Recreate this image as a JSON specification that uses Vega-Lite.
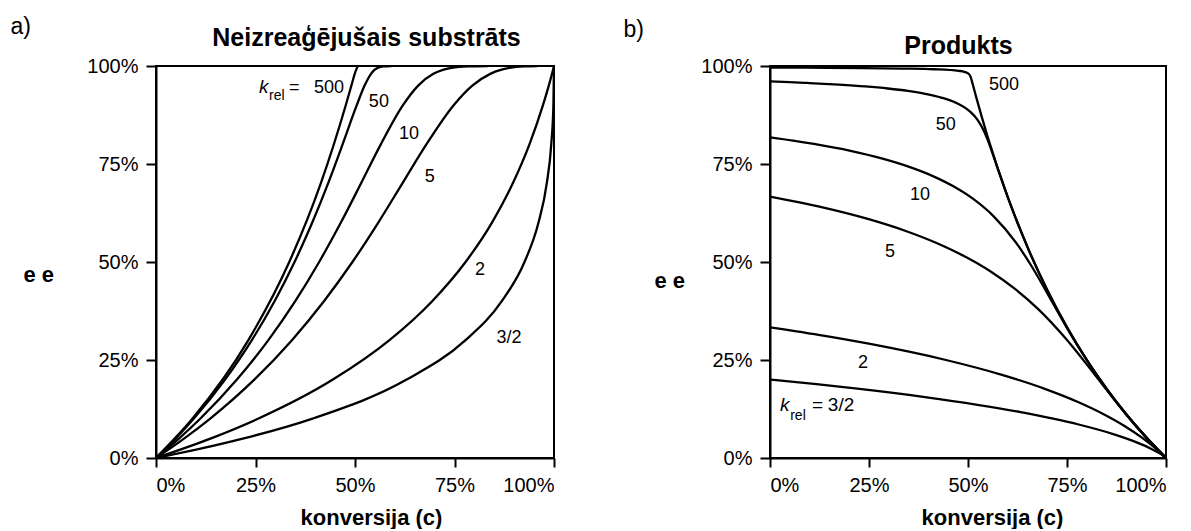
{
  "$schema": "https://vega.github.io/schema/vega-lite/v6.json",
  "padding": {"left": 9, "top": 14, "right": 5, "bottom": 0},
  "background": "white",
  "spacing": 216,
  "bounds": "flush",
  "config": {
    "font": "Liberation Sans",
    "view": {"stroke": "black", "strokeWidth": 2},
    "axis": {"grid": false, "domainColor": "black", "domainWidth": 2, "tickColor": "black", "tickWidth": 2, "labelColor": "black", "labelFont": "Liberation Sans", "labelFontSize": 20, "titleColor": "black", "titleFont": "Liberation Sans"},
    "text": {"font": "Liberation Sans", "color": "black"}
  },
  "datasets": {
    "substrate": [
      {"k":"3/2","c":0,"ee":0},{"k":"3/2","c":0.1173,"ee":0.025},{"k":"3/2","c":0.2204,"ee":0.05},{"k":"3/2","c":0.3914,"ee":0.1},{"k":"3/2","c":0.6297,"ee":0.2},{"k":"3/2","c":0.777,"ee":0.3},{"k":"3/2","c":0.8688,"ee":0.4},{"k":"3/2","c":0.9259,"ee":0.5},{"k":"3/2","c":0.9609,"ee":0.6},{"k":"3/2","c":0.9817,"ee":0.7},{"k":"3/2","c":0.9931,"ee":0.8},{"k":"3/2","c":0.9985,"ee":0.9},{"k":"3/2","c":1,"ee":1},
      {"k":"2","c":0,"ee":0},{"k":"2","c":0.1383,"ee":0.05},{"k":"2","c":0.2562,"ee":0.1},{"k":"2","c":0.4444,"ee":0.2},{"k":"2","c":0.5858,"ee":0.3},{"k":"2","c":0.6939,"ee":0.4},{"k":"2","c":0.7778,"ee":0.5},{"k":"2","c":0.8438,"ee":0.6},{"k":"2","c":0.8962,"ee":0.7},{"k":"2","c":0.9383,"ee":0.8},{"k":"2","c":0.9723,"ee":0.9},{"k":"2","c":0.9869,"ee":0.95},{"k":"2","c":0.9975,"ee":0.99},{"k":"2","c":1,"ee":1},
      {"k":"5","c":0,"ee":0},{"k":"5","c":0.0712,"ee":0.05},{"k":"5","c":0.1354,"ee":0.1},{"k":"5","c":0.247,"ee":0.2},{"k":"5","c":0.341,"ee":0.3},{"k":"5","c":0.422,"ee":0.4},{"k":"5","c":0.4935,"ee":0.5},{"k":"5","c":0.5581,"ee":0.6},{"k":"5","c":0.6187,"ee":0.7},{"k":"5","c":0.6793,"ee":0.8},{"k":"5","c":0.7479,"ee":0.9},{"k":"5","c":0.7948,"ee":0.95},{"k":"5","c":0.8399,"ee":0.98},{"k":"5","c":0.8662,"ee":0.99},{"k":"5","c":0.8879,"ee":0.995},{"k":"5","c":0.9252,"ee":0.999},{"k":"5","c":0.958,"ee":0.9999},
      {"k":"10","c":0,"ee":0},{"k":"10","c":0.0582,"ee":0.05},{"k":"10","c":0.111,"ee":0.1},{"k":"10","c":0.2033,"ee":0.2},{"k":"10","c":0.2819,"ee":0.3},{"k":"10","c":0.3499,"ee":0.4},{"k":"10","c":0.4099,"ee":0.5},{"k":"10","c":0.4642,"ee":0.6},{"k":"10","c":0.5149,"ee":0.7},{"k":"10","c":0.5648,"ee":0.8},{"k":"10","c":0.6205,"ee":0.9},{"k":"10","c":0.6587,"ee":0.95},{"k":"10","c":0.6969,"ee":0.98},{"k":"10","c":0.7209,"ee":0.99},{"k":"10","c":0.7423,"ee":0.995},{"k":"10","c":0.785,"ee":0.999},{"k":"10","c":0.8336,"ee":0.9999},
      {"k":"50","c":0,"ee":0},{"k":"50","c":0.0496,"ee":0.05},{"k":"50","c":0.0946,"ee":0.1},{"k":"50","c":0.1735,"ee":0.2},{"k":"50","c":0.2404,"ee":0.3},{"k":"50","c":0.2979,"ee":0.4},{"k":"50","c":0.3481,"ee":0.5},{"k":"50","c":0.3924,"ee":0.6},{"k":"50","c":0.4322,"ee":0.7},{"k":"50","c":0.4688,"ee":0.8},{"k":"50","c":0.5044,"ee":0.9},{"k":"50","c":0.5241,"ee":0.95},{"k":"50","c":0.5402,"ee":0.98},{"k":"50","c":0.5489,"ee":0.99},{"k":"50","c":0.5564,"ee":0.995},{"k":"50","c":0.5716,"ee":0.999},{"k":"50","c":0.5915,"ee":0.9999},
      {"k":"500","c":0,"ee":0},{"k":"500","c":0.0913,"ee":0.1},{"k":"500","c":0.2317,"ee":0.3},{"k":"500","c":0.3348,"ee":0.5},{"k":"500","c":0.4138,"ee":0.7},{"k":"500","c":0.4768,"ee":0.9},{"k":"500","c":0.4909,"ee":0.95},{"k":"500","c":0.5028,"ee":0.99},{"k":"500","c":0.5073,"ee":0.999},{"k":"500","c":0.5098,"ee":0.9999}
    ],
    "product": [
      {"k":"3/2","c":0,"ee":0.2},{"k":"3/2","c":0.1173,"ee":0.1882},{"k":"3/2","c":0.2204,"ee":0.1769},{"k":"3/2","c":0.3914,"ee":0.1555},{"k":"3/2","c":0.6297,"ee":0.1176},{"k":"3/2","c":0.777,"ee":0.0861},{"k":"3/2","c":0.8688,"ee":0.0604},{"k":"3/2","c":0.9259,"ee":0.04},{"k":"3/2","c":0.9609,"ee":0.0244},{"k":"3/2","c":0.9817,"ee":0.0131},{"k":"3/2","c":0.9931,"ee":0.0055},{"k":"3/2","c":1,"ee":0},
      {"k":"2","c":0,"ee":0.3333},{"k":"2","c":0.1383,"ee":0.3115},{"k":"2","c":0.2562,"ee":0.2903},{"k":"2","c":0.4444,"ee":0.25},{"k":"2","c":0.5858,"ee":0.2121},{"k":"2","c":0.6939,"ee":0.1765},{"k":"2","c":0.7778,"ee":0.1429},{"k":"2","c":0.8438,"ee":0.1111},{"k":"2","c":0.8962,"ee":0.0811},{"k":"2","c":0.9383,"ee":0.0526},{"k":"2","c":0.9723,"ee":0.0256},{"k":"2","c":0.9869,"ee":0.0127},{"k":"2","c":1,"ee":0},
      {"k":"5","c":0,"ee":0.6667},{"k":"5","c":0.0712,"ee":0.6526},{"k":"5","c":0.1354,"ee":0.6386},{"k":"5","c":0.247,"ee":0.6098},{"k":"5","c":0.341,"ee":0.5797},{"k":"5","c":0.422,"ee":0.5478},{"k":"5","c":0.4935,"ee":0.5133},{"k":"5","c":0.5581,"ee":0.4752},{"k":"5","c":0.6187,"ee":0.4313},{"k":"5","c":0.6793,"ee":0.3778},{"k":"5","c":0.7479,"ee":0.3034},{"k":"5","c":0.7948,"ee":0.2453},{"k":"5","c":0.8399,"ee":0.1868},{"k":"5","c":0.8662,"ee":0.1529},{"k":"5","c":0.8879,"ee":0.1257},{"k":"5","c":0.9252,"ee":0.0808},{"k":"5","c":0.958,"ee":0.0439},{"k":"5","c":0.9764,"ee":0.0242},{"k":"5","c":1,"ee":0},
      {"k":"10","c":0,"ee":0.8182},{"k":"10","c":0.0582,"ee":0.8098},{"k":"10","c":0.111,"ee":0.8012},{"k":"10","c":0.2033,"ee":0.7836},{"k":"10","c":0.2819,"ee":0.7644},{"k":"10","c":0.3499,"ee":0.7433},{"k":"10","c":0.4099,"ee":0.7198},{"k":"10","c":0.4642,"ee":0.6925},{"k":"10","c":0.5149,"ee":0.6596},{"k":"10","c":0.5648,"ee":0.6165},{"k":"10","c":0.6205,"ee":0.5504},{"k":"10","c":0.6587,"ee":0.4923},{"k":"10","c":0.6969,"ee":0.4262},{"k":"10","c":0.7209,"ee":0.3832},{"k":"10","c":0.7423,"ee":0.3454},{"k":"10","c":0.785,"ee":0.2736},{"k":"10","c":0.8336,"ee":0.1996},{"k":"10","c":0.8712,"ee":0.1478},{"k":"10","c":0.9,"ee":0.1111},{"k":"10","c":0.95,"ee":0.0526},{"k":"10","c":1,"ee":0},
      {"k":"50","c":0,"ee":0.9608},{"k":"50","c":0.0496,"ee":0.9589},{"k":"50","c":0.0946,"ee":0.9567},{"k":"50","c":0.1735,"ee":0.9525},{"k":"50","c":0.2404,"ee":0.9479},{"k":"50","c":0.2979,"ee":0.9426},{"k":"50","c":0.3481,"ee":0.9364},{"k":"50","c":0.3924,"ee":0.9289},{"k":"50","c":0.4322,"ee":0.9195},{"k":"50","c":0.4688,"ee":0.9065},{"k":"50","c":0.5044,"ee":0.8844},{"k":"50","c":0.5241,"ee":0.8626},{"k":"50","c":0.5402,"ee":0.8343},{"k":"50","c":0.5489,"ee":0.8135},{"k":"50","c":0.5564,"ee":0.7933},{"k":"50","c":0.5716,"ee":0.7487},{"k":"50","c":0.5915,"ee":0.6906},{"k":"50","c":0.6103,"ee":0.6386},{"k":"50","c":0.65,"ee":0.5385},{"k":"50","c":0.7,"ee":0.4286},{"k":"50","c":0.75,"ee":0.3333},{"k":"50","c":0.8,"ee":0.25},{"k":"50","c":0.85,"ee":0.1765},{"k":"50","c":0.9,"ee":0.1111},{"k":"50","c":0.95,"ee":0.0526},{"k":"50","c":1,"ee":0},
      {"k":"500","c":0,"ee":0.996},{"k":"500","c":0.0913,"ee":0.9957},{"k":"500","c":0.2317,"ee":0.9947},{"k":"500","c":0.3348,"ee":0.9935},{"k":"500","c":0.4138,"ee":0.9917},{"k":"500","c":0.4768,"ee":0.9876},{"k":"500","c":0.4909,"ee":0.9851},{"k":"500","c":0.5028,"ee":0.9791},{"k":"500","c":0.5073,"ee":0.9703},{"k":"500","c":0.5098,"ee":0.9615},{"k":"500","c":0.52,"ee":0.9231},{"k":"500","c":0.55,"ee":0.8182},{"k":"500","c":0.6,"ee":0.6667},{"k":"500","c":0.65,"ee":0.5385},{"k":"500","c":0.7,"ee":0.4286},{"k":"500","c":0.75,"ee":0.3333},{"k":"500","c":0.8,"ee":0.25},{"k":"500","c":0.85,"ee":0.1765},{"k":"500","c":0.9,"ee":0.1111},{"k":"500","c":0.95,"ee":0.0526},{"k":"500","c":1,"ee":0}
    ],
    "labelsA": [
      {"t":"50","c":0.560,"ee":0.908,"p":"n"},{"t":"10","c":0.636,"ee":0.827,"p":"n"},{"t":"5","c":0.688,"ee":0.717,"p":"n"},{"t":"2","c":0.814,"ee":0.480,"p":"n"},{"t":"3/2","c":0.887,"ee":0.306,"p":"n"},
      {"t":"k","c":0.259,"ee":0.931,"p":"k"},{"t":"rel","c":0.284,"ee":0.913,"p":"r"},{"t":"=","c":0.334,"ee":0.931,"p":"l"},{"t":"500","c":0.397,"ee":0.931,"p":"l"}
    ],
    "labelsB": [
      {"t":"500","c":0.591,"ee":0.952,"p":"n"},{"t":"50","c":0.444,"ee":0.849,"p":"n"},{"t":"10","c":0.379,"ee":0.671,"p":"n"},{"t":"5","c":0.303,"ee":0.526,"p":"n"},{"t":"2","c":0.235,"ee":0.242,"p":"n"},
      {"t":"k","c":0.025,"ee":0.120,"p":"k"},{"t":"rel","c":0.051,"ee":0.097,"p":"r"},{"t":"=","c":0.106,"ee":0.120,"p":"l"},{"t":"3/2","c":0.146,"ee":0.120,"p":"l"}
    ]
  },
  "hconcat": [
    {
      "width": 398,
      "height": 392,
      "layer": [
        {
          "data": {"name": "substrate"},
          "mark": {"type": "line", "interpolate": "monotone", "clip": true, "strokeWidth": 2.3, "color": "black"},
          "encoding": {
            "x": {"field": "c", "type": "quantitative", "scale": {"domain": [0, 1], "nice": false, "zero": false},
              "axis": {"orient": "bottom", "values": [0, 0.25, 0.5, 0.75, 1], "format": ".0%", "tickSize": 9, "labelPadding": 8,
                "title": "konversija (c)", "titleFontSize": 22, "titleFontWeight": "bold", "titleX": 215, "titleY": 66, "titleAlign": "center", "titleBaseline": "alphabetic"}},
            "y": {"field": "ee", "type": "quantitative", "scale": {"domain": [0, 1], "nice": false, "zero": false},
              "axis": {"orient": "left", "values": [0, 0.25, 0.5, 0.75, 1], "format": ".0%", "tickSize": 10, "labelPadding": 8,
                "title": "e e", "titleAngle": 0, "titleFontSize": 22, "titleFontWeight": "bold", "titleX": -133, "titleY": 215, "titleAlign": "left", "titleBaseline": "alphabetic"}},
            "detail": {"field": "k", "type": "nominal"}
          }
        },
        {
          "data": {"name": "labelsA"},
          "transform": [{"filter": "datum.p === 'n'"}],
          "mark": {"type": "text", "align": "center", "baseline": "middle", "fontSize": 18},
          "encoding": {
            "x": {"field": "c", "type": "quantitative", "scale": {"domain": [0, 1], "nice": false, "zero": false},
              "axis": {"orient": "top", "labels": false, "ticks": false, "domain": false,
                "title": "Neizreaģējušais substrāts", "titleFontSize": 25, "titleFontWeight": "bold", "titleX": 210, "titleY": -21, "titleAlign": "center", "titleBaseline": "alphabetic"}},
            "y": {"field": "ee", "type": "quantitative", "scale": {"domain": [0, 1], "nice": false, "zero": false},
              "axis": {"orient": "right", "labels": false, "ticks": false, "domain": false,
                "title": "a)", "titleAngle": 0, "titleFontSize": 23, "titleFontWeight": "normal", "titleX": -544, "titleY": -33, "titleAlign": "left", "titleBaseline": "alphabetic"}},
            "text": {"field": "t", "type": "nominal"}
          }
        },
        {
          "data": {"name": "labelsA"},
          "transform": [{"filter": "datum.p === 'k'"}],
          "mark": {"type": "text", "align": "left", "baseline": "alphabetic", "fontSize": 19, "fontStyle": "italic"},
          "encoding": {
            "x": {"field": "c", "type": "quantitative", "scale": {"domain": [0, 1], "nice": false, "zero": false}, "axis": null},
            "y": {"field": "ee", "type": "quantitative", "scale": {"domain": [0, 1], "nice": false, "zero": false}, "axis": null},
            "text": {"field": "t", "type": "nominal"}
          }
        },
        {
          "data": {"name": "labelsA"},
          "transform": [{"filter": "datum.p === 'r'"}],
          "mark": {"type": "text", "align": "left", "baseline": "alphabetic", "fontSize": 14},
          "encoding": {
            "x": {"field": "c", "type": "quantitative", "scale": {"domain": [0, 1], "nice": false, "zero": false}, "axis": null},
            "y": {"field": "ee", "type": "quantitative", "scale": {"domain": [0, 1], "nice": false, "zero": false}, "axis": null},
            "text": {"field": "t", "type": "nominal"}
          }
        },
        {
          "data": {"name": "labelsA"},
          "transform": [{"filter": "datum.p === 'l'"}],
          "mark": {"type": "text", "align": "left", "baseline": "alphabetic", "fontSize": 18},
          "encoding": {
            "x": {"field": "c", "type": "quantitative", "scale": {"domain": [0, 1], "nice": false, "zero": false}, "axis": null},
            "y": {"field": "ee", "type": "quantitative", "scale": {"domain": [0, 1], "nice": false, "zero": false}, "axis": null},
            "text": {"field": "t", "type": "nominal"}
          }
        }
      ],
      "resolve": {"axis": {"x": "independent", "y": "independent"}}
    },
    {
      "width": 396,
      "height": 392,
      "layer": [
        {
          "data": {"name": "product"},
          "mark": {"type": "line", "interpolate": "monotone", "clip": true, "strokeWidth": 2.3, "color": "black"},
          "encoding": {
            "x": {"field": "c", "type": "quantitative", "scale": {"domain": [0, 1], "nice": false, "zero": false},
              "axis": {"orient": "bottom", "values": [0, 0.25, 0.5, 0.75, 1], "format": ".0%", "tickSize": 9, "labelPadding": 8,
                "title": "konversija (c)", "titleFontSize": 22, "titleFontWeight": "bold", "titleX": 222, "titleY": 66, "titleAlign": "center", "titleBaseline": "alphabetic"}},
            "y": {"field": "ee", "type": "quantitative", "scale": {"domain": [0, 1], "nice": false, "zero": false},
              "axis": {"orient": "left", "values": [0, 0.25, 0.5, 0.75, 1], "format": ".0%", "tickSize": 10, "labelPadding": 8,
                "title": "e e", "titleAngle": 0, "titleFontSize": 22, "titleFontWeight": "bold", "titleX": -116, "titleY": 221, "titleAlign": "left", "titleBaseline": "alphabetic"}},
            "detail": {"field": "k", "type": "nominal"}
          }
        },
        {
          "data": {"name": "labelsB"},
          "transform": [{"filter": "datum.p === 'n'"}],
          "mark": {"type": "text", "align": "center", "baseline": "middle", "fontSize": 18},
          "encoding": {
            "x": {"field": "c", "type": "quantitative", "scale": {"domain": [0, 1], "nice": false, "zero": false},
              "axis": {"orient": "top", "labels": false, "ticks": false, "domain": false,
                "title": "Produkts", "titleFontSize": 25, "titleFontWeight": "bold", "titleX": 188, "titleY": -13, "titleAlign": "center", "titleBaseline": "alphabetic"}},
            "y": {"field": "ee", "type": "quantitative", "scale": {"domain": [0, 1], "nice": false, "zero": false},
              "axis": {"orient": "right", "labels": false, "ticks": false, "domain": false,
                "title": "b)", "titleAngle": 0, "titleFontSize": 23, "titleFontWeight": "normal", "titleX": -543, "titleY": -30, "titleAlign": "left", "titleBaseline": "alphabetic"}},
            "text": {"field": "t", "type": "nominal"}
          }
        },
        {
          "data": {"name": "labelsB"},
          "transform": [{"filter": "datum.p === 'k'"}],
          "mark": {"type": "text", "align": "left", "baseline": "alphabetic", "fontSize": 19, "fontStyle": "italic"},
          "encoding": {
            "x": {"field": "c", "type": "quantitative", "scale": {"domain": [0, 1], "nice": false, "zero": false}, "axis": null},
            "y": {"field": "ee", "type": "quantitative", "scale": {"domain": [0, 1], "nice": false, "zero": false}, "axis": null},
            "text": {"field": "t", "type": "nominal"}
          }
        },
        {
          "data": {"name": "labelsB"},
          "transform": [{"filter": "datum.p === 'r'"}],
          "mark": {"type": "text", "align": "left", "baseline": "alphabetic", "fontSize": 14},
          "encoding": {
            "x": {"field": "c", "type": "quantitative", "scale": {"domain": [0, 1], "nice": false, "zero": false}, "axis": null},
            "y": {"field": "ee", "type": "quantitative", "scale": {"domain": [0, 1], "nice": false, "zero": false}, "axis": null},
            "text": {"field": "t", "type": "nominal"}
          }
        },
        {
          "data": {"name": "labelsB"},
          "transform": [{"filter": "datum.p === 'l'"}],
          "mark": {"type": "text", "align": "left", "baseline": "alphabetic", "fontSize": 19},
          "encoding": {
            "x": {"field": "c", "type": "quantitative", "scale": {"domain": [0, 1], "nice": false, "zero": false}, "axis": null},
            "y": {"field": "ee", "type": "quantitative", "scale": {"domain": [0, 1], "nice": false, "zero": false}, "axis": null},
            "text": {"field": "t", "type": "nominal"}
          }
        }
      ],
      "resolve": {"axis": {"x": "independent", "y": "independent"}}
    }
  ]
}
